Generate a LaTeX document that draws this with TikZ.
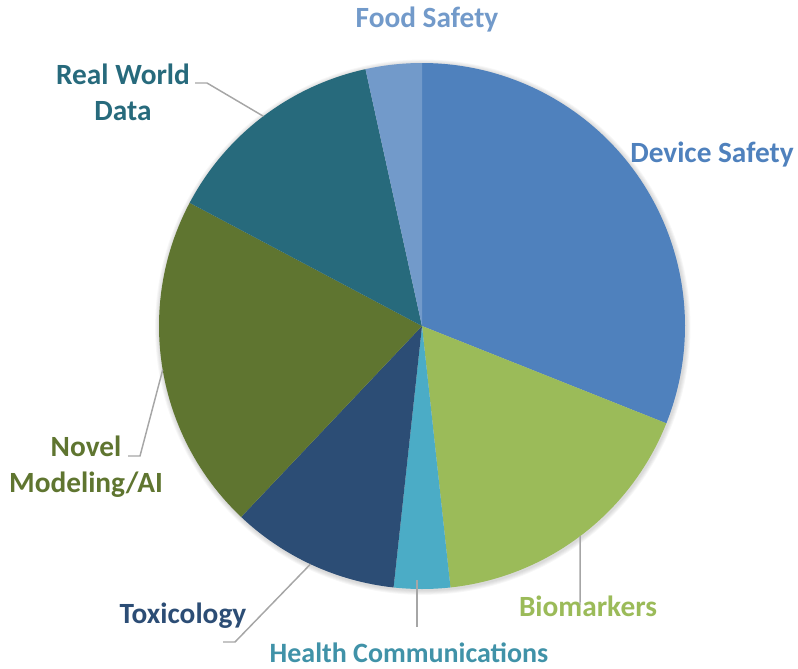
\documentclass[tikz,border=0pt]{standalone}
\usepackage{fontspec}
\setmainfont{Carlito}
\usetikzlibrary{calc}
\definecolor{devblue}{HTML}{4F81BD}
\definecolor{biogreen}{HTML}{9BBB59}
\definecolor{healthcyan}{HTML}{4BACC6}
\definecolor{toxnavy}{HTML}{2C4D75}
\definecolor{novelolive}{HTML}{5F7530}
\definecolor{rwdteal}{HTML}{276A7C}
\definecolor{foodblue}{HTML}{729ACA}
\definecolor{leadgray}{HTML}{A6A6A6}

\begin{document}
\begin{tikzpicture}[x=0.75pt, y=-0.75pt,
	lbl/.style={inner sep=0pt, font=\fontsize{22}{27}\selectfont\bfseries},
	leader/.style={draw=leadgray, line width=1.1pt}]
	\useasboundingbox (0,0) rectangle (798,668);
	\coordinate (O) at (422,326);
	\def\R{197.25pt}
	
	% soft shadow
	\foreach \i in {1,...,5} \fill[black, opacity=0.03] ([shift={(0.6pt,-0.9pt)}]O) circle[radius=197.25pt+\i*0.7pt];
	
	\foreach \a/\b/\col in {90/-21.72/devblue, -21.72/-83.79/biogreen, -83.79/-96.21/healthcyan, -96.21/-133.45/toxnavy, -133.45/-207.93/novelolive, -207.93/-257.59/rwdteal, -257.59/-270/foodblue}
		\fill[\col] (O) -- ([shift={(\a:\R)}]O) arc[start angle=\a, end angle=\b, radius=\R] -- cycle;
	
	\node[lbl, text=foodblue, anchor=base] (food) at (427,27) {Food Safety};
	\node[lbl, text=devblue, anchor=base] (dev) at (712,162) {Device Safety};
	\node[lbl, text=biogreen, anchor=base] (bio) at (588,616) {Biomarkers};
	\node[lbl, font=\fontsize{21}{27}\selectfont\bfseries, text=healthcyan!85!black, anchor=base] (health) at (409,662) {Health Communications};
	\node[lbl, text=toxnavy, anchor=base] (tox) at (183,623) {Toxicology};
	\node[lbl, text=rwdteal, align=center] (rwd) at (123,92) {Real World\\Data};
	\node[lbl, text=novelolive, align=center] (novel) at (86,467) {Novel\\Modeling/AI};
	
	\coordinate (rwd-s) at (195,83); \coordinate (rwd-k) at (207,83); \coordinate (rwd-e) at ([shift={(127.1:\R)}]O);
	\coordinate (novel-s) at (128,456); \coordinate (novel-k) at (140,456); \coordinate (novel-e) at ([shift={(189.6:\R)}]O);
	\coordinate (tox-s) at (223,642); \coordinate (tox-k) at (235,642); \coordinate (tox-e) at ([shift={(244.9:\R)}]O);
	\coordinate (health-s) at (417,627); \coordinate (health-e) at (417,580);
	\coordinate (bio-s) at (580,605); \coordinate (bio-e) at ([shift={(306.96:\R)}]O);
	
	\draw[leader] (rwd-s) -- (rwd-k) -- (rwd-e);
	\draw[leader] (novel-s) -- (novel-k) -- (novel-e);
	\draw[leader] (tox-s) -- (tox-k) -- (tox-e);
	\draw[leader] (health-s) -- (health-e);
	\draw[leader] (bio-s) -- (bio-e);
\end{tikzpicture}
\end{document}
